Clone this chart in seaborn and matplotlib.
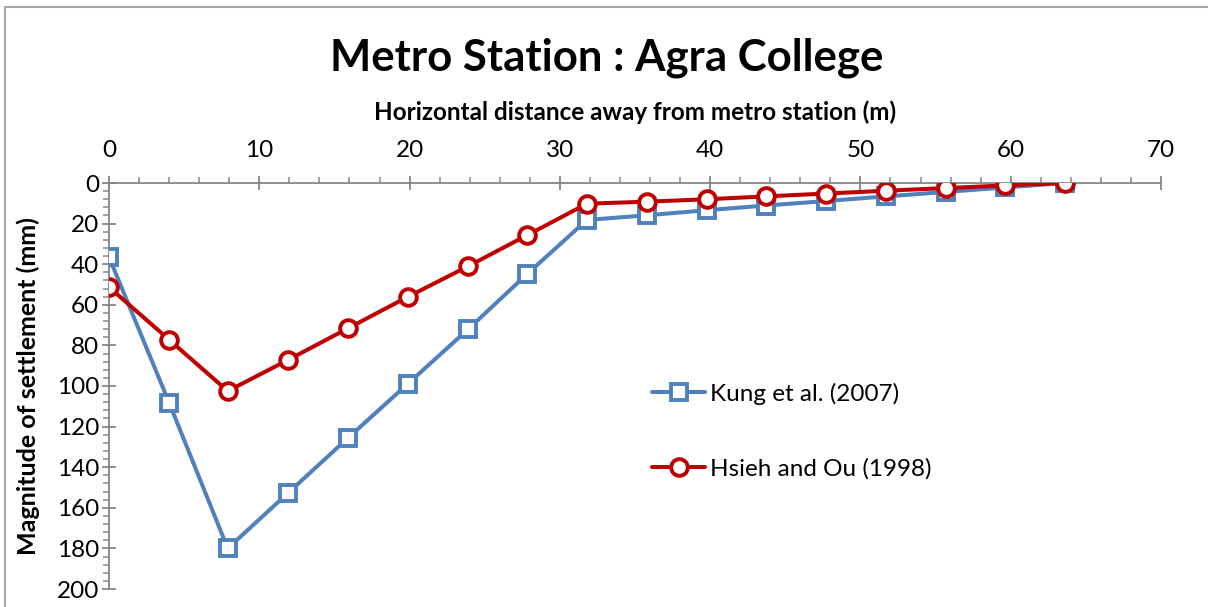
import matplotlib
matplotlib.use("Agg")
import matplotlib.pyplot as plt
from matplotlib.ticker import MultipleLocator
from matplotlib.lines import Line2D
import seaborn as sns

# Horizontal distance from the station wall (m)
distance = [0, 4.0, 7.9, 11.9, 15.9, 19.9, 23.9, 27.8, 31.8,
            35.8, 39.8, 43.7, 47.7, 51.7, 55.7, 59.6, 63.6]

# Ground settlement (mm) predicted by each method
kung_2007 = [36.5, 108.2, 180.0, 152.8, 125.6, 98.8, 72.0, 45.0, 18.2,
             15.9, 13.4, 11.1, 8.9, 6.6, 4.4, 2.2, 0.0]
hsieh_ou_1998 = [51.3, 77.2, 102.5, 87.2, 71.6, 56.0, 41.0, 25.8, 10.2,
                 9.2, 8.0, 6.6, 5.2, 3.8, 2.5, 1.2, 0.0]

series_names = ["Kung et al. (2007)", "Hsieh and Ou (1998)"]
title_text = "Metro Station : Agra College"
xlabel_text = "Horizontal distance away from metro station (m)"
ylabel_text = "Magnitude of settlement (mm)"

sns.set_style("white")
plt.rcParams["font.family"] = ["Lato", "DejaVu Sans"]
plt.rcParams["text.color"] = "black"
plt.rcParams["axes.labelcolor"] = "black"

W, H = 1208, 607
fig = plt.figure(figsize=(W / 100, H / 100), dpi=100)
ax = fig.add_axes([109 / W, 1 - 589 / H, (1161 - 109) / W, (589 - 183) / H])

blue = "#4F81BD"
red = "#C00000"

sns.lineplot(x=distance, y=kung_2007, ax=ax, color=blue, linewidth=2.9,
             marker="s", markersize=12, markerfacecolor="white",
             markeredgecolor=blue, markeredgewidth=2.8,
             label=series_names[0], zorder=3)
sns.lineplot(x=distance, y=hsieh_ou_1998, ax=ax, color=red, linewidth=2.9,
             marker="o", markersize=12, markerfacecolor="white",
             markeredgecolor=red, markeredgewidth=2.8,
             label=series_names[1], zorder=4)

ax.set_xlim(0, 70)
ax.set_ylim(200, 0)
ax.xaxis.tick_top()
ax.xaxis.set_label_position("top")
ax.xaxis.set_major_locator(MultipleLocator(10))
ax.xaxis.set_minor_locator(MultipleLocator(2))
ax.yaxis.set_major_locator(MultipleLocator(20))
ax.yaxis.set_minor_locator(MultipleLocator(4))

axis_grey = "#868686"
for side in ["bottom", "right"]:
    ax.spines[side].set_visible(False)
for side in ["top", "left"]:
    ax.spines[side].set_color(axis_grey)
    ax.spines[side].set_linewidth(1.3)

ax.tick_params(which="major", direction="inout", length=10, width=1.3,
               color=axis_grey, labelsize=17.5, labelcolor="black")
ax.tick_params(which="minor", direction="out", length=4.5, width=1.1,
               color=axis_grey)
ax.tick_params(axis="x", which="both", top=True, bottom=False)
ax.tick_params(axis="x", which="major", pad=11)
ax.tick_params(axis="y", which="both", left=True, right=False)
ax.tick_params(axis="y", which="major", pad=2)

ax.set_xlabel(xlabel_text, fontsize=17.5, fontweight="bold", labelpad=14)
ax.set_ylabel(ylabel_text, fontsize=18, fontweight="bold", labelpad=12)

fig.text(607 / W, 1 - 58 / H, title_text, ha="center", va="center",
         fontsize=31.5, fontweight="bold")

leg = ax.legend(loc="center left", bbox_to_anchor=(0.516, 0.389),
                frameon=False, fontsize=17.5, handlelength=2.2,
                handletextpad=0.2, labelspacing=2.2, borderpad=0,
                borderaxespad=0)

# chart-area frame
fig.add_artist(Line2D([5 / W, 5 / W], [0, 1 - 7 / H], transform=fig.transFigure,
                      color="#A6A6A6", linewidth=1.5))
fig.add_artist(Line2D([5 / W, 1], [1 - 7 / H, 1 - 7 / H], transform=fig.transFigure,
                      color="#A6A6A6", linewidth=1.5))

fig.savefig("out.png", dpi=100, facecolor="white")
